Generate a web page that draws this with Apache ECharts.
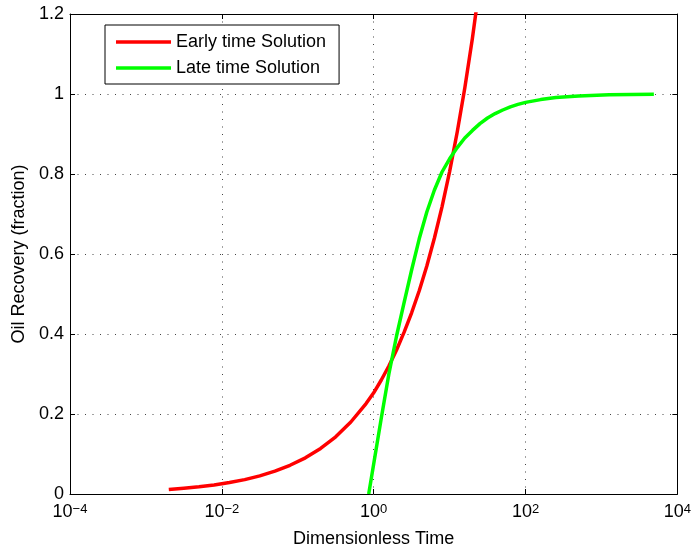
<!DOCTYPE html>
<html>
<head>
<meta charset="utf-8">
<script src="https://cdn.jsdelivr.net/npm/echarts@6/dist/echarts.min.js"></script>
<style>
html,body{margin:0;padding:0;background:#fff;}
#chart{width:694px;height:554px;}
</style>
</head>
<body>
<div id="chart"></div>
<script>
// Early time solution
var earlyT = [0.002,0.00316,0.005,0.0079,0.0126,0.02,0.0316,0.05,0.079,0.126,0.2,0.316,0.5,0.794,1,1.26,1.585,2,2.51,3.16,3.98,5.01,6.31,7.94,10,12.6,15.85,19.95,25.1];
var earlyR = [0.0114,0.0143,0.018,0.0227,0.0286,0.036,0.0453,0.057,0.0718,0.0904,0.114,0.143,0.18,0.226,0.253,0.285,0.32,0.36,0.404,0.453,0.508,0.57,0.64,0.718,0.806,0.905,1.015,1.139,1.278];
// Late time solution
var lateT = [0.86,1,1.26,1.585,2,2.51,3.16,3.98,5.01,6.31,7.94,10,12.6,15.85,20,25.1,31.6,39.8,50.1,63.1,79.4,100,158,251,500,1259,4900];
var lateR = [0,0.075,0.19,0.30,0.395,0.478,0.56,0.638,0.705,0.76,0.805,0.838,0.866,0.89,0.909,0.926,0.94,0.951,0.96,0.968,0.974,0.979,0.986,0.991,0.995,0.998,0.9995];
var seriesNames = ['Early time Solution','Late time Solution'];
var xTickExponents = [-4,-2,0,2,4];
var yTickLabels = ['0','0.2','0.4','0.6','0.8','1','1.2'];

function zip(a,b){var r=[];for(var i=0;i<a.length;i++)r.push([a[i],b[i]]);return r;}

var FONT = 'Liberation Sans, Arial, Helvetica, sans-serif';
var chart = echarts.init(document.getElementById('chart'), null, {renderer:'canvas'});

var tickCommon = {show:true, inside:true, length:5, lineStyle:{color:'#000', width:1}};
var lineCommon = {show:true, onZero:false, lineStyle:{color:'#000', width:1}};

chart.setOption({
  animation:false,
  backgroundColor:'#fff',
  textStyle:{fontFamily:FONT},
  grid:{left:70, right:15, top:14, bottom:60, containLabel:false},
  legend:{
    orient:'vertical', left:105, top:25,
    data:seriesNames, icon:'rect',
    backgroundColor:'#fff', borderColor:'#000', borderWidth:1,
    padding:[8,13,7,11], itemGap:8, itemWidth:55, itemHeight:3.5, itemTextGap:7,
    textStyle:{fontSize:18, color:'#000', fontFamily:FONT}
  },
  xAxis:[{
    type:'log', logBase:10, min:1e-4, max:1e4, interval:2, splitNumber:4,
    name:'Dimensionless Time', nameLocation:'middle', nameGap:36,
    nameTextStyle:{fontSize:18, color:'#000', fontFamily:FONT},
    axisLine:lineCommon, axisTick:tickCommon, minorTick:{show:false},
    axisLabel:{
      margin:9, color:'#000',
      formatter:function(v){
        var e = Math.round(Math.log10(v));
        if (xTickExponents.indexOf(e) < 0) return '';
        var s = e < 0 ? '\u2212' + (-e) : String(e);
        return '{b|10}{s|' + s + '}';
      },
      rich:{
        b:{fontSize:18, fontFamily:FONT, color:'#000', lineHeight:18, padding:[4,0,0,0], verticalAlign:'bottom'},
        s:{fontSize:13, fontFamily:FONT, color:'#000', lineHeight:13, verticalAlign:'top'}
      }
    },
    splitLine:{show:true, lineStyle:{color:'#444', width:1, type:[1,6.5]}}
  },{
    type:'log', logBase:10, min:1e-4, max:1e4, interval:2, splitNumber:4, position:'top',
    axisLine:lineCommon, axisTick:tickCommon, axisLabel:{show:false}, splitLine:{show:false}
  }],
  yAxis:[{
    type:'value', min:0, max:1.2, interval:0.2,
    name:'Oil Recovery (fraction)', nameLocation:'middle', nameGap:37, nameRotate:90,
    nameTextStyle:{fontSize:18, color:'#000', fontFamily:FONT},
    axisLine:lineCommon, axisTick:tickCommon,
    axisLabel:{margin:6, fontSize:18, color:'#000', fontFamily:FONT,
      formatter:function(v){return yTickLabels[Math.round(v/0.2)];}},
    splitLine:{show:true, lineStyle:{color:'#444', width:1, type:[1,6.5]}}
  },{
    type:'value', min:0, max:1.2, interval:0.2, position:'right',
    axisLine:lineCommon, axisTick:tickCommon, axisLabel:{show:false}, splitLine:{show:false}
  }],
  series:[{
    name:seriesNames[0], type:'line', data:zip(earlyT, earlyR),
    xAxisIndex:0, yAxisIndex:0, symbol:'none', smooth:false, clip:true,
    lineStyle:{color:'#ff0000', width:3.5, join:'round', cap:'butt'}, itemStyle:{color:'#ff0000'}
  },{
    name:seriesNames[1], type:'line', data:zip(lateT, lateR),
    xAxisIndex:0, yAxisIndex:0, symbol:'none', smooth:false, clip:true,
    lineStyle:{color:'#00ff00', width:3.5, join:'round', cap:'butt'}, itemStyle:{color:'#00ff00'}
  }]
});
</script>
</body>
</html>
